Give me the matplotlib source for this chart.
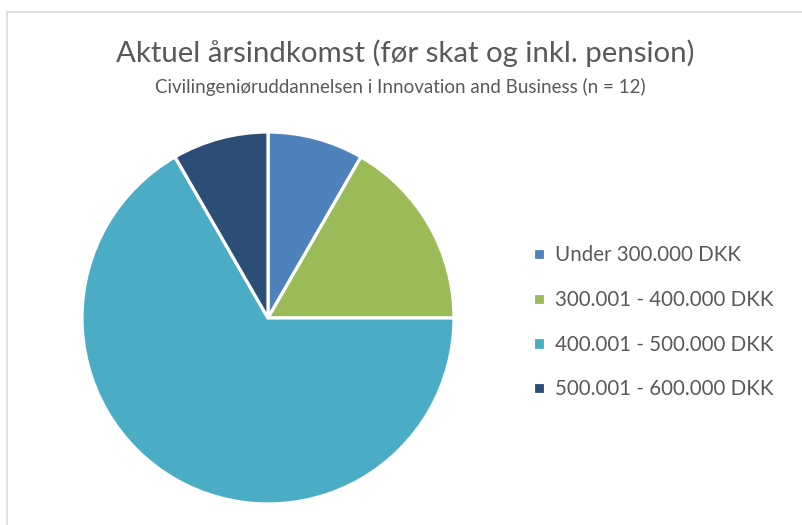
import matplotlib.pyplot as plt
from matplotlib.patches import Rectangle

# data
labels = ["Under 300.000 DKK", "300.001 - 400.000 DKK",
          "400.001 - 500.000 DKK", "500.001 - 600.000 DKK"]
counts = [1, 2, 8, 1]
colors = ["#4F81BD", "#9BBB59", "#4BACC6", "#2C4D75"]

W, H = 803, 525
plt.rcParams['font.family'] = ['Lato', 'DejaVu Sans']

fig = plt.figure(figsize=(W / 100, H / 100), dpi=100)

# chart area border (Excel style)
fig.patches.append(Rectangle((7 / W, -0.1), 1.2, 1 - 12 / H + 0.1,
                             transform=fig.transFigure, fill=False,
                             edgecolor="#d9d9d9", linewidth=1.2))

cx, cy, r = 268, H - 318, 186
ax = fig.add_axes([(cx - r) / W, (cy - r) / H, 2 * r / W, 2 * r / H])
wedges, _ = ax.pie(counts, colors=colors, startangle=90, counterclock=False,
                   wedgeprops=dict(edgecolor="white", linewidth=2.3))
ax.set_xlim(-1, 1)
ax.set_ylim(-1, 1)
ax.set_aspect("equal")

fig.text(405 / W, 1 - 53 / H, "Aktuel årsindkomst (før skat og inkl. pension)",
         ha="center", va="center", fontsize=21.2, color="#595959")
fig.text(400 / W, 1 - 87 / H,
         "Civilingeniøruddannelsen i Innovation and Business (n = 12)",
         ha="center", va="center", fontsize=13.5, color="#595959")

fig.legend(wedges, labels, loc="upper left",
           bbox_to_anchor=(515 / W, 1 - 227 / H), frameon=False,
           fontsize=14.8, labelcolor="#595959", handlelength=0.55,
           handleheight=0.55, handletextpad=0.5, labelspacing=1.2)

fig.savefig("out.png", dpi=100)
